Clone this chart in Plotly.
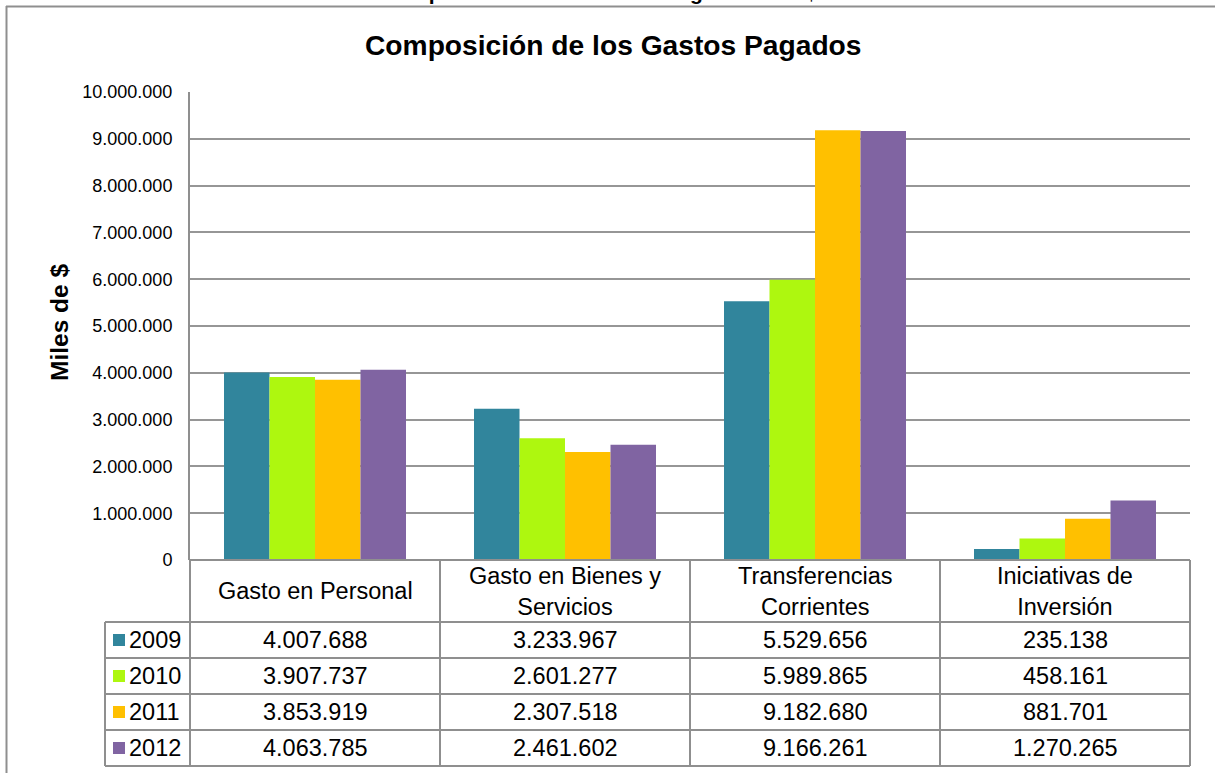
import plotly.graph_objects as go

categories = ["Gasto en Personal", "Gasto en Bienes y Servicios",
              "Transferencias Corrientes", "Iniciativas de Inversión"]
category_labels = ["Gasto en Personal", "Gasto en Bienes y<br>Servicios",
                   "Transferencias<br>Corrientes", "Iniciativas de<br>Inversión"]
years = ["2009", "2010", "2011", "2012"]
values_2009 = [4007688, 3233967, 5529656, 235138]
values_2010 = [3907737, 2601277, 5989865, 458161]
values_2011 = [3853919, 2307518, 9182680, 881701]
values_2012 = [4063785, 2461602, 9166261, 1270265]
series = [values_2009, values_2010, values_2011, values_2012]
colors = ["#31859C", "#AEF70F", "#FFC000", "#8064A2"]
y_ticks = [0, 1000000, 2000000, 3000000, 4000000, 5000000,
           6000000, 7000000, 8000000, 9000000, 10000000]

W, H = 1215, 773
# plot area in pixels
SL, SR, ST, SB = 190, 1190, 92, 560
FONT = "Arial, Liberation Sans, sans-serif"
LINE = "#8f8f8f"
TBL = 23.5


def px_x(p):
    """pixel x -> paper x"""
    return (p - SL) / (SR - SL)


def px_y(p):
    """pixel y -> paper y"""
    return (SB - p) / (SB - ST)


def fmt(v):
    return f"{v:,}".replace(",", ".")


fig = go.Figure()
for name, vals, col in zip(years, series, colors):
    fig.add_trace(go.Bar(x=list(range(len(categories))), y=vals, name=name,
                         marker=dict(color=col, line=dict(width=0))))

shapes = []
annotations = []

# outer chart border (top + left)
shapes.append(dict(type="line", xref="paper", yref="paper",
                   x0=px_x(6), x1=px_x(1225), y0=px_y(6.5), y1=px_y(6.5),
                   line=dict(color=LINE, width=2)))
shapes.append(dict(type="line", xref="paper", yref="paper",
                   x0=px_x(6.5), x1=px_x(6.5), y0=px_y(6), y1=px_y(785),
                   line=dict(color=LINE, width=2)))

# data table grid
row_edges = [560, 622, 658, 694, 730, 766]
col_edges = [190, 440, 690, 940, 1190]
leg_left = 105
for i, yy in enumerate(row_edges):
    x0 = SL if i == 0 else leg_left
    shapes.append(dict(type="line", xref="paper", yref="paper",
                       x0=px_x(x0), x1=px_x(SR), y0=px_y(yy), y1=px_y(yy),
                       line=dict(color=LINE, width=2)))
for xx in col_edges:
    shapes.append(dict(type="line", xref="paper", yref="paper",
                       x0=px_x(xx), x1=px_x(xx), y0=px_y(560), y1=px_y(766),
                       line=dict(color=LINE, width=2)))
shapes.append(dict(type="line", xref="paper", yref="paper",
                   x0=px_x(leg_left), x1=px_x(leg_left), y0=px_y(622), y1=px_y(766),
                   line=dict(color=LINE, width=2)))

# header labels
for i, lab in enumerate(category_labels):
    annotations.append(dict(x=i, xref="x", y=px_y(591), yref="paper",
                            text=lab, showarrow=False,
                            font=dict(family=FONT, size=TBL, color="#000000"),
                            xanchor="center", yanchor="middle"))

row_centers = [640, 676, 712, 748]
for r, (name, vals, col) in enumerate(zip(years, series, colors)):
    yc = row_centers[r]
    shapes.append(dict(type="rect", xref="paper", yref="paper",
                       x0=px_x(113), x1=px_x(125), y0=px_y(yc - 6), y1=px_y(yc + 6),
                       fillcolor=col, line=dict(width=0)))
    annotations.append(dict(x=px_x(127), xref="paper", y=px_y(yc), yref="paper",
                            text=name, showarrow=False, xanchor="left", yanchor="middle",
                            font=dict(family=FONT, size=TBL, color="#000000")))
    for i, v in enumerate(vals):
        annotations.append(dict(x=i, xref="x", y=px_y(yc), yref="paper",
                                text=fmt(v), showarrow=False,
                                xanchor="center", yanchor="middle",
                                font=dict(family=FONT, size=TBL, color="#000000")))

# y axis title
annotations.append(dict(x=px_x(59), xref="paper", y=px_y(323), yref="paper",
                        text="<b>Miles de $</b>", textangle=-90, showarrow=False,
                        xanchor="center", yanchor="middle",
                        font=dict(family=FONT, size=24.5, color="#000000")))

# chart title
annotations.append(dict(x=px_x(613.5), xref="paper", y=px_y(45), yref="paper",
                        text="<b>Composición de los Gastos Pagados</b>",
                        showarrow=False, xanchor="center", yanchor="middle",
                        font=dict(family=FONT, size=28.2, color="#000000")))

# cut-off caption above the chart frame (partly outside the page, as in the source)
annotations.append(dict(x=px_x(600), xref="paper", y=px_y(-8), yref="paper",
                        text="<b>Composición de los Gastos Pagados en M$</b>",
                        showarrow=False, xanchor="center", yanchor="middle",
                        font=dict(family=FONT, size=21, color="#000000")))

fig.update_layout(
    width=W, height=H,
    margin=dict(l=SL, r=W - SR, t=ST, b=H - SB, pad=0),
    paper_bgcolor="#ffffff", plot_bgcolor="#ffffff",
    barmode="group", bargap=0.272, bargroupgap=0,
    showlegend=False,
    separators=",.",
    font=dict(family=FONT, size=18, color="#000000"),
    xaxis=dict(range=[-0.5, 3.5], showticklabels=False, showgrid=False,
               zeroline=False, showline=False, fixedrange=True),
    yaxis=dict(range=[0, 10000000], tickvals=y_ticks, tickformat=",d",
               showgrid=True, gridcolor="#969696", gridwidth=2,
               showline=True, linecolor=LINE, linewidth=2,
               zeroline=False, ticks="", ticklabelstandoff=12,
               tickfont=dict(family=FONT, size=18, color="#000000")),
    shapes=shapes,
    annotations=annotations,
)

fig.write_html(
    "out.html",
    config={"displayModeBar": False},
    post_script="document.body.style.margin='0';document.body.style.overflow='hidden';",
)
